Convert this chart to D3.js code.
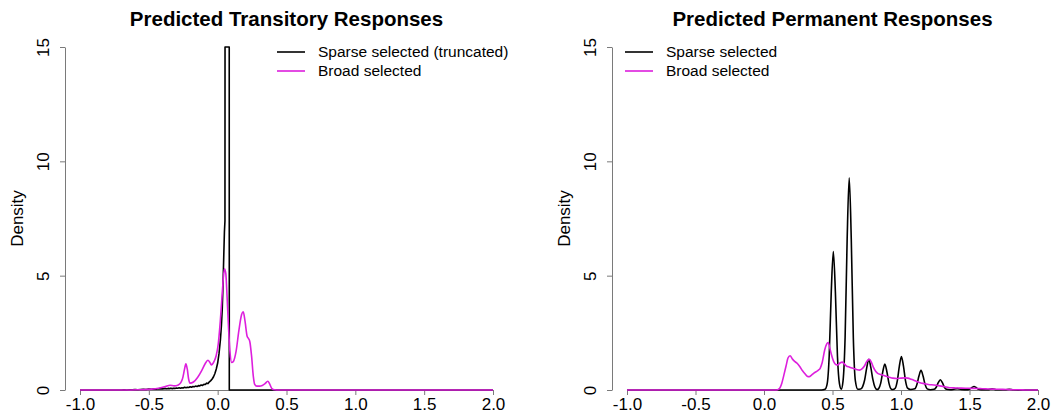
<!DOCTYPE html>
<html>
<head>
<meta charset="utf-8">
<script src="https://cdn.jsdelivr.net/npm/d3@7"></script>
<style>
  html, body { margin: 0; padding: 0; background: #fff; }
  svg { display: block; font-family: "Liberation Sans", Arial, sans-serif; }
</style>
</head>
<body>
<svg id="chart" width="1063" height="416"></svg>
<script>
// ---- data -------------------------------------------------------------
const xTicks = [-1.0, -0.5, 0.0, 0.5, 1.0, 1.5, 2.0];
const yTicks = [0, 5, 10, 15];
const panelTitles = ["Predicted Transitory Responses", "Predicted Permanent Responses"];
const legendLabels = [["Sparse selected (truncated)", "Broad selected"], ["Sparse selected", "Broad selected"]];

// Transitory, sparse selected (density capped at 15)
const transSparse = [
  [-1.0, 0], [-0.72, 0], [-0.70, 0.00], [-0.68, 0.01], [-0.66, 0.00], [-0.64, 0.01], [-0.62, 0.01],
  [-0.60, 0.02], [-0.58, 0.01], [-0.56, 0.02], [-0.54, 0.03], [-0.52, 0.02], [-0.50, 0.04],
  [-0.48, 0.03], [-0.46, 0.05], [-0.44, 0.04], [-0.42, 0.06], [-0.40, 0.05], [-0.38, 0.07],
  [-0.37, 0.05], [-0.36, 0.07], [-0.35, 0.06], [-0.34, 0.08], [-0.33, 0.06], [-0.32, 0.08],
  [-0.31, 0.07], [-0.30, 0.09], [-0.29, 0.08], [-0.28, 0.10], [-0.27, 0.08], [-0.26, 0.10],
  [-0.25, 0.09], [-0.24, 0.12], [-0.23, 0.10], [-0.22, 0.12], [-0.21, 0.11], [-0.20, 0.14],
  [-0.19, 0.12], [-0.18, 0.15], [-0.17, 0.14], [-0.16, 0.17], [-0.15, 0.15], [-0.14, 0.19],
  [-0.13, 0.18], [-0.12, 0.22], [-0.11, 0.20], [-0.10, 0.25], [-0.09, 0.24], [-0.08, 0.30],
  [-0.07, 0.28], [-0.06, 0.36], [-0.05, 0.41], [-0.04, 0.48], [-0.03, 0.58], [-0.02, 0.72],
  [-0.01, 0.92], [0.00, 1.18], [0.01, 1.6], [0.02, 2.2], [0.027, 2.8], [0.033, 3.5],
  [0.039, 4.6], [0.044, 5.8], [0.049, 6.9], [0.053, 7.4], [0.0535, 15], [0.084, 15],
  [0.0845, 0], [2.0, 0]
];

// Transitory, broad selected
const transBroad = [
  [-1.0, 0], [-0.68, 0], [-0.58, 0.01], [-0.48, 0.04], [-0.43, 0.08], [-0.38, 0.15], [-0.346, 0.21],
  [-0.316, 0.18], [-0.286, 0.22], [-0.256, 0.48], [-0.241, 0.9], [-0.231, 1.15], [-0.221, 0.92],
  [-0.211, 0.48], [-0.201, 0.3], [-0.176, 0.35], [-0.146, 0.55], [-0.116, 0.85], [-0.091, 1.15],
  [-0.071, 1.3], [-0.056, 1.2], [-0.046, 1.1], [-0.026, 1.25], [-0.011, 1.5], [0.004, 2.0],
  [0.019, 3.0], [0.034, 4.3], [0.049, 5.3], [0.059, 5.1], [0.069, 4.0], [0.079, 2.7],
  [0.089, 1.7], [0.102, 1.2], [0.114, 1.25], [0.134, 1.7], [0.154, 2.6], [0.174, 3.3],
  [0.186, 3.42], [0.199, 3.0], [0.214, 2.35], [0.224, 2.25], [0.234, 2.1], [0.246, 1.5],
  [0.259, 0.6], [0.269, 0.25], [0.284, 0.17], [0.304, 0.17], [0.324, 0.2], [0.344, 0.28],
  [0.364, 0.38], [0.379, 0.25], [0.394, 0.06], [0.414, 0.01], [0.444, 0], [2.0, 0]
];

// Permanent, sparse selected
const permSparse = [
  [-1.0, 0], [0.42, 0], [0.445, 0.03], [0.461, 0.27], [0.476, 1.5], [0.491, 4.3], [0.506, 6.05],
  [0.521, 4.3], [0.536, 1.5], [0.551, 0.27], [0.564, 0.04], [0.577, 0.4], [0.592, 2.3],
  [0.607, 6.6], [0.622, 9.28], [0.637, 6.6], [0.652, 2.3], [0.667, 0.4], [0.685, 0.03],
  [0.705, 0.04], [0.72, 0.15], [0.735, 0.45], [0.75, 0.98], [0.765, 1.34], [0.78, 0.98],
  [0.795, 0.45], [0.81, 0.12], [0.825, 0.02], [0.837, 0.06], [0.852, 0.3], [0.867, 0.8],
  [0.882, 1.13], [0.897, 0.8], [0.912, 0.3], [0.927, 0.05], [0.94, 0.02], [0.958, 0.08],
  [0.973, 0.4], [0.988, 1.04], [1.003, 1.46], [1.018, 1.04], [1.033, 0.4], [1.048, 0.08],
  [1.07, 0.02], [1.101, 0.05], [1.116, 0.24], [1.131, 0.61], [1.146, 0.86], [1.161, 0.61],
  [1.176, 0.24], [1.191, 0.05], [1.215, 0.01], [1.242, 0.03], [1.257, 0.12], [1.272, 0.32],
  [1.287, 0.45], [1.302, 0.32], [1.317, 0.12], [1.332, 0.03], [1.36, 0.01], [1.38, 0.02],
  [1.41, 0.06], [1.44, 0.02], [1.488, 0.01], [1.503, 0.04], [1.518, 0.11], [1.533, 0.15],
  [1.548, 0.11], [1.563, 0.04], [1.585, 0.01], [1.635, 0.01], [1.665, 0.05], [1.695, 0.01],
  [1.76, 0.01], [1.79, 0.03], [1.82, 0.01], [1.89, 0], [2.0, 0]
];

// Permanent, broad selected
const permBroad = [
  [-1.0, 0], [0.09, 0], [0.11, 0.05], [0.13, 0.3], [0.145, 0.65], [0.161, 1.05], [0.175, 1.4],
  [0.19, 1.5], [0.208, 1.35], [0.226, 1.24], [0.245, 1.15], [0.262, 1.02], [0.28, 0.85],
  [0.298, 0.72], [0.315, 0.6], [0.33, 0.58], [0.347, 0.65], [0.364, 0.74], [0.38, 0.8],
  [0.395, 0.86], [0.41, 0.95], [0.425, 1.2], [0.443, 1.75], [0.458, 2.02], [0.468, 2.08],
  [0.48, 1.85], [0.492, 1.55], [0.508, 1.25], [0.523, 1.12], [0.54, 1.1], [0.555, 1.18],
  [0.571, 1.22], [0.585, 1.15], [0.6, 1.06], [0.625, 1.0], [0.649, 0.95], [0.675, 0.9],
  [0.697, 0.87], [0.715, 0.92], [0.733, 1.05], [0.75, 1.25], [0.769, 1.34], [0.785, 1.2],
  [0.798, 1.0], [0.815, 0.82], [0.83, 0.73], [0.85, 0.68], [0.87, 0.65], [0.89, 0.6],
  [0.914, 0.56], [0.94, 0.52], [0.97, 0.5], [1.0, 0.52], [1.03, 0.53], [1.05, 0.52],
  [1.075, 0.47], [1.097, 0.42], [1.12, 0.36], [1.145, 0.31], [1.17, 0.28], [1.2, 0.24],
  [1.24, 0.22], [1.275, 0.19], [1.31, 0.15], [1.34, 0.12], [1.36, 0.1], [1.4, 0.09],
  [1.44, 0.08], [1.49, 0.075], [1.53, 0.07], [1.58, 0.06], [1.62, 0.05], [1.67, 0.04],
  [1.72, 0.03], [1.77, 0.02], [1.82, 0.012], [1.89, 0.005], [1.94, 0], [2.0, 0]
];

// ---- drawing ----------------------------------------------------------
const svg = d3.select("#chart");
const FONT = '"Liberation Sans", Arial, sans-serif';
const SPARSE_COLOR = "#000000";
const BROAD_COLOR = "#dd1fdd";
const AXIS_COLOR = "#7a7a7a";

const panels = [
  { axisX: 65,  x0: 80,  x1: 493,  title: panelTitles[0], legend: legendLabels[0],
    legendX: 277, labelX: 23, sparse: transSparse, broad: transBroad, sparseCurve: d3.curveLinear },
  { axisX: 612, x0: 627, x1: 1038, title: panelTitles[1], legend: legendLabels[1],
    legendX: 625, labelX: 570, sparse: permSparse, broad: permBroad, sparseCurve: d3.curveMonotoneX }
];

const yTop = 47, yBottom = 390;

panels.forEach((p, i) => {
  const x = d3.scaleLinear().domain([-1, 2]).range([p.x0, p.x1]);
  const y = d3.scaleLinear().domain([0, 15]).range([yBottom, yTop]);
  const g = svg.append("g");

  // clip region = plotting area
  const clipId = "clip" + i;
  svg.append("clipPath").attr("id", clipId).append("rect")
    .attr("x", p.x0 - 2).attr("y", yTop - 1)
    .attr("width", p.x1 - p.x0 + 4).attr("height", yBottom - yTop + 2);

  // x axis
  const xAxis = d3.axisBottom(x).tickValues(xTicks).tickSize(5).tickSizeOuter(0);
  const gx = g.append("g").attr("transform", `translate(0,${yBottom})`).call(xAxis);
  gx.select(".domain").attr("stroke", AXIS_COLOR);
  gx.selectAll(".tick line").attr("stroke", AXIS_COLOR);
  gx.selectAll(".tick text").attr("fill", "#000").attr("font-size", 17).attr("font-family", FONT)
    .attr("y", 20).attr("dy", null)
    .text(d => d3.format(".1f")(d).replace("\u2212", "-"));

  // y axis
  const yAxis = d3.axisLeft(y).tickValues(yTicks).tickSize(5).tickSizeOuter(0);
  const gy = g.append("g").attr("transform", `translate(${p.axisX},0)`).call(yAxis);
  gy.select(".domain").attr("stroke", AXIS_COLOR);
  gy.selectAll(".tick line").attr("stroke", AXIS_COLOR);
  gy.selectAll(".tick text").attr("fill", "#000").attr("font-size", 17).attr("font-family", FONT)
    .attr("x", null).attr("dy", null).attr("text-anchor", "middle")
    .attr("transform", "translate(-16,0) rotate(-90)");

  // axis title
  g.append("text")
    .attr("transform", `translate(${p.labelX},${(yTop + yBottom) / 2}) rotate(-90)`)
    .attr("text-anchor", "middle").attr("font-size", 17).attr("font-family", FONT)
    .text("Density");

  // panel title
  g.append("text")
    .attr("x", (p.x0 + p.x1) / 2).attr("y", 26)
    .attr("text-anchor", "middle").attr("font-size", 20.5).attr("font-weight", "bold")
    .attr("font-family", FONT).text(p.title);

  // density curves
  const plot = g.append("g").attr("clip-path", `url(#${clipId})`);
  const sparseLine = d3.line().x(d => x(d[0])).y(d => y(d[1])).curve(p.sparseCurve);
  const broadLine = d3.line().x(d => x(d[0])).y(d => y(d[1])).curve(d3.curveMonotoneX);

  plot.append("path").datum(p.sparse).attr("d", sparseLine)
    .attr("fill", "none").attr("stroke", SPARSE_COLOR).attr("stroke-width", 1.6)
    .attr("stroke-linejoin", "round");
  plot.append("path").datum(p.broad).attr("d", broadLine)
    .attr("fill", "none").attr("stroke", BROAD_COLOR).attr("stroke-width", 1.6)
    .attr("stroke-linejoin", "round");

  // legend
  const leg = g.append("g");
  [SPARSE_COLOR, BROAD_COLOR].forEach((c, k) => {
    const ly = 52 + k * 19;
    leg.append("line").attr("x1", p.legendX).attr("x2", p.legendX + 28)
      .attr("y1", ly).attr("y2", ly).attr("stroke", c).attr("stroke-width", 1.6);
    leg.append("text").attr("x", p.legendX + 41).attr("y", ly).attr("dy", "0.35em")
      .attr("font-size", 15.5).attr("font-family", FONT).text(p.legend[k]);
  });
});
</script>
</body>
</html>
